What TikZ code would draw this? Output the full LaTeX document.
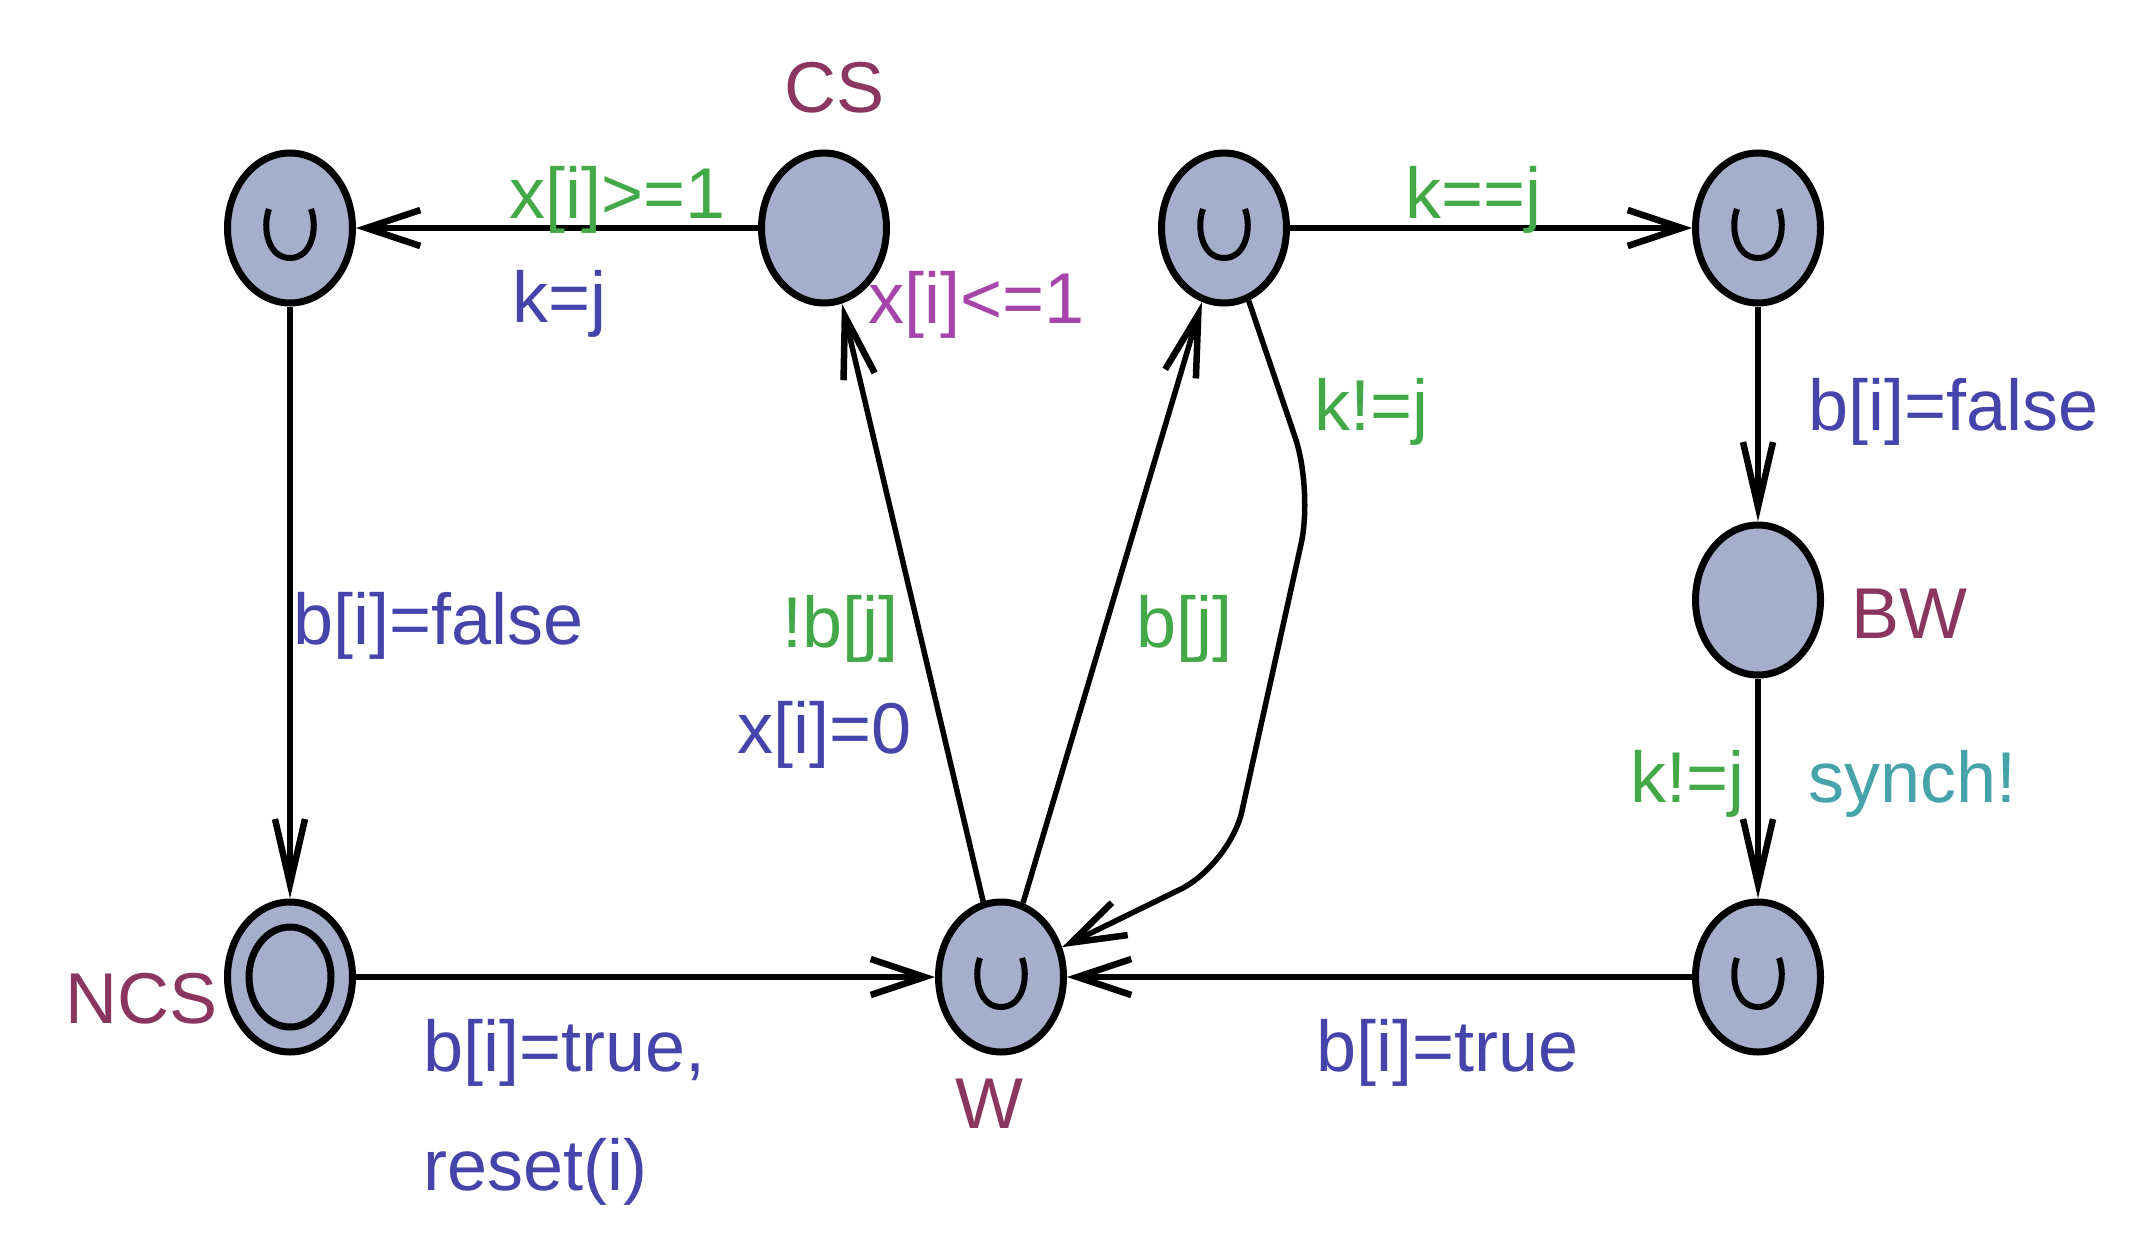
\documentclass[tikz,border=0pt]{standalone}
\usepackage{fontspec}
\setmainfont{Liberation Sans}
\usetikzlibrary{shapes.geometric,arrows.meta}
\definecolor{locfill}{RGB}{165,174,203}
\definecolor{locname}{RGB}{138,54,96}
\definecolor{guardc}{RGB}{67,168,71}
\definecolor{updatec}{RGB}{68,68,170}
\definecolor{invc}{RGB}{166,68,170}
\definecolor{syncc}{RGB}{70,163,170}
\begin{document}
\begin{tikzpicture}[x=1pt,y=-1pt,
  loc/.style={ellipse,draw=black,fill=locfill,line width=7pt,minimum width=125pt,minimum height=150pt,inner sep=0pt},
  urgent/.style={loc,path picture={\draw[line width=6pt,black]
      ([shift={(-21,-19)}]path picture bounding box.center) .. controls +(-7,19) and +(-22,0) ..
      ([shift={(0,30)}]path picture bounding box.center) .. controls +(22,0) and +(7,19) ..
      ([shift={(21,-19)}]path picture bounding box.center);}},
  initial/.style={loc,path picture={\draw[line width=7pt,black]
      (path picture bounding box.center) ellipse [x radius=41pt, y radius=50pt];}},
  lbl/.style={anchor=base west,inner sep=0pt,font=\fontsize{72}{86}\selectfont},
  edge/.style={line width=5.5pt},
  hbarb/.style={-{Straight Barb[length=54pt,width=36pt,line width=6.5pt]}},
  vbarb/.style={-{Straight Barb[length=65pt,width=30pt,line width=6.5pt]}},
  dbarb/.style={-{Straight Barb[length=62pt,width=32pt,line width=6.5pt]}}
]
\useasboundingbox (0,0) rectangle (2139,1255);

% locations
\node[urgent]  (A)   at (290,228)  {};
\node[loc]     (CS)  at (824,228)  {};
\node[urgent]  (C)   at (1224,228) {};
\node[urgent]  (D)   at (1758,228) {};
\node[loc]     (BW)  at (1758,600) {};
\node[urgent]  (E)   at (1758,977) {};
\node[urgent]  (W)   at (1001,977) {};
\node[initial] (NCS) at (290,977)  {};

\coordinate (n1) at (1313,490);
\coordinate (n2) at (1230,865);

% edges
\draw[edge,hbarb] (CS) -- (A);
\draw[edge,vbarb] (A) -- (NCS);
\draw[edge,hbarb] (NCS) -- (W);
\draw[edge,hbarb] (E) -- (W);
\draw[edge,dbarb] (W) -- (CS);
\draw[edge,dbarb] (W) -- (C);
\draw[edge,hbarb,rounded corners=55pt] (C) -- (n1) -- (n2) -- (W);
\draw[edge,hbarb] (C) -- (D);
\draw[edge,vbarb] (D) -- (BW);
\draw[edge,vbarb] (BW) -- (E);

% location names
\node[lbl,text=locname] (tCS)  at (784,112)  {CS};
\node[lbl,text=locname] (tBW)  at (1851,638) {BW};
\node[lbl,text=locname] (tNCS) at (65,1023)  {NCS};
\node[lbl,text=locname] (tW)   at (955,1128) {W};

% invariant
\node[lbl,text=invc] (tinv) at (868,323) {x[i]<=1};

% guards
\node[lbl,text=guardc] (g1) at (509,218)  {x[i]>=1};
\node[lbl,text=guardc] (g2) at (1405,218) {k==j};
\node[lbl,text=guardc] (g3) at (1314,430) {k!=j};
\node[lbl,text=guardc] (g4) at (782,647)  {!b[j]};
\node[lbl,text=guardc] (g5) at (1136,647) {b[j]};
\node[lbl,text=guardc] (g6) at (1630,802) {k!=j};

% updates
\node[lbl,text=updatec] (u1) at (512,322)  {k=j};
\node[lbl,text=updatec] (u2) at (1808,430) {b[i]=false};
\node[lbl,text=updatec] (u3) at (293,644)  {b[i]=false};
\node[lbl,text=updatec] (u4) at (737,753)  {x[i]=0};
\node[lbl,text=updatec] (u5) at (423,1071) {b[i]=true,};
\node[lbl,text=updatec] (u6) at (423,1190) {reset(i)};
\node[lbl,text=updatec] (u7) at (1316,1071) {b[i]=true};

% sync
\node[lbl,text=syncc] (s1) at (1808,802) {synch!};
\end{tikzpicture}
\end{document}
